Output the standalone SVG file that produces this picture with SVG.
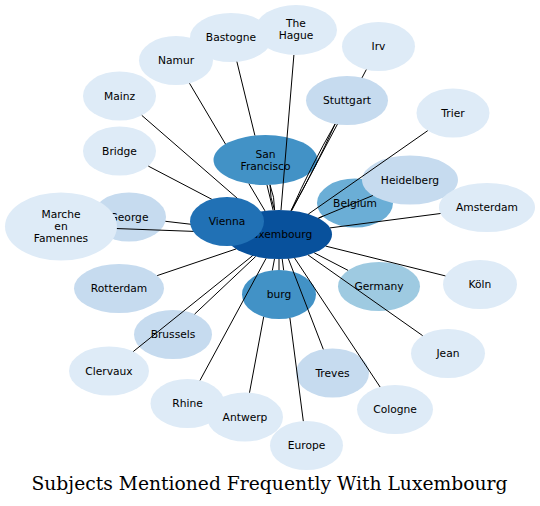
<svg xmlns="http://www.w3.org/2000/svg" width="540" height="506" viewBox="0 0 540 506">
<style>
.n text{font-family:"DejaVu Sans",Verdana,sans-serif;font-size:10.7px;fill:#000;text-anchor:middle}
.c1{fill:#deebf7}.c2{fill:#c6dbef}.c3{fill:#9ecae1}.c4{fill:#6baed6}.c5{fill:#4292c6}.c6{fill:#2171b5}.c7{fill:#08519c}
.e path{fill:none;stroke:#000;stroke-width:1}
.title{font-family:"DejaVu Serif","Liberation Serif",serif;font-size:18px;fill:#000;text-anchor:middle}
</style>
<rect width="540" height="506" fill="#fff"/>
<g id="nodes-lower">
<g id="n-rhine" class="n"><ellipse class="c1" cx="187.5" cy="403.5" rx="37" ry="24.5"/><text x="187.5" y="407.2">Rhine</text></g>
<g id="n-antwerp" class="n"><ellipse class="c1" cx="245" cy="417" rx="38" ry="24.5"/><text x="245" y="420.7">Antwerp</text></g>
<g id="n-europe" class="n"><ellipse class="c1" cx="306.5" cy="445.5" rx="36.5" ry="24.5"/><text x="306.5" y="449.2">Europe</text></g>
<g id="n-bastogne" class="n"><ellipse class="c1" cx="231" cy="37.5" rx="41" ry="24.5"/><text x="231" y="41.2">Bastogne</text></g>
<g id="n-hague" class="n"><ellipse class="c1" cx="296" cy="30" rx="41" ry="25"/><text x="296" y="27">The</text><text x="296" y="39">Hague</text></g>
<g id="n-namur" class="n"><ellipse class="c1" cx="176" cy="60.5" rx="37" ry="24.5"/><text x="176" y="64.2">Namur</text></g>
<g id="n-mainz" class="n"><ellipse class="c1" cx="119.5" cy="96" rx="36.5" ry="24.5"/><text x="119.5" y="99.7">Mainz</text></g>
<g id="n-bridge" class="n"><ellipse class="c1" cx="119.5" cy="151" rx="36.5" ry="24.5"/><text x="119.5" y="154.7">Bridge</text></g>
<g id="n-irv" class="n"><ellipse class="c1" cx="378.5" cy="46.5" rx="36.5" ry="24.5"/><text x="378.5" y="50.2">Irv</text></g>
<g id="n-trier" class="n"><ellipse class="c1" cx="453" cy="113" rx="36.5" ry="24.5"/><text x="453" y="116.7">Trier</text></g>
<g id="n-sanfrancisco" class="n"><ellipse class="c5" cx="265.5" cy="160" rx="52" ry="25"/><text x="265.5" y="157.5">San</text><text x="265.5" y="169.5">Francisco</text></g>
<g id="n-stuttgart" class="n"><ellipse class="c2" cx="347" cy="100.5" rx="41" ry="24.5"/><text x="347" y="104.2">Stuttgart</text></g>
<g id="n-belgium" class="n"><ellipse class="c4" cx="355" cy="203" rx="38" ry="24.5"/><text x="355" y="206.7">Belgium</text></g>
<g id="n-heidelberg" class="n"><ellipse class="c2" cx="410" cy="180" rx="48" ry="24.5"/><text x="410" y="183.7">Heidelberg</text></g>
<g id="n-amsterdam" class="n"><ellipse class="c1" cx="487" cy="207.5" rx="48" ry="24.5"/><text x="487" y="211">Amsterdam</text></g>
<g id="n-george" class="n"><ellipse class="c2" cx="129" cy="217" rx="37" ry="24.5"/><text x="129" y="220.7">George</text></g>
<g id="n-marche" class="n"><ellipse class="c1" cx="61" cy="226.5" rx="56" ry="34"/><text x="61" y="217.5">Marche</text><text x="61" y="229.5">en</text><text x="61" y="241.5">Famennes</text></g>
<g id="n-rotterdam" class="n"><ellipse class="c2" cx="119" cy="288.5" rx="45" ry="24.5"/><text x="119" y="292.2">Rotterdam</text></g>
<g id="n-brussels" class="n"><ellipse class="c2" cx="173" cy="334.5" rx="39" ry="24.5"/><text x="173" y="338.2">Brussels</text></g>
<g id="n-clervaux" class="n"><ellipse class="c1" cx="109" cy="371" rx="40" ry="24.5"/><text x="109" y="374.7">Clervaux</text></g>
<g id="n-treves" class="n"><ellipse class="c2" cx="332.5" cy="373" rx="36.5" ry="24.5"/><text x="332.5" y="376.7">Treves</text></g>
<g id="n-cologne" class="n"><ellipse class="c1" cx="395" cy="409.5" rx="38" ry="24.5"/><text x="395" y="413.2">Cologne</text></g>
<g id="n-jean" class="n"><ellipse class="c1" cx="448" cy="353.5" rx="37" ry="24.5"/><text x="448" y="357.2">Jean</text></g>
<g id="n-koln" class="n"><ellipse class="c1" cx="480" cy="284.5" rx="37" ry="24.5"/><text x="480" y="288.2">Köln</text></g>
<g id="n-germany" class="n"><ellipse class="c3" cx="379" cy="286.5" rx="41" ry="24.5"/><text x="379" y="290.2">Germany</text></g>
<g id="n-burg" class="n"><ellipse class="c5" cx="279" cy="294.5" rx="37" ry="24.5"/><text x="279" y="298.2">burg</text></g>
<g id="n-luxembourg" class="n"><ellipse class="c7" cx="279" cy="234.5" rx="53" ry="24.5"/><text x="279" y="238.2">Luxembourg</text></g>
</g>
<g id="connectors" class="e">
<path d="M265,210.9L248.9,183.7M225.5,144.1L189.5,83.3"/>
<path d="M273.1,210.2L267,185M254.9,135.5L236.9,61.7"/>
<path d="M281,210L293.9,55"/>
<path d="M274.6,210.1Q274.76,197.05 270,184.9"/>
<path d="M274.6,210.1Q269.84,197.950 270,184.9"/>
<path d="M291.6,210.7L337.4,124.2M362,77.8L366.3,69.6"/>
<path d="M291.1,210.6Q315.33,168.43 335.1,124"/>
<path d="M291.1,210.6Q310.87,166.17 335.1,124"/>
<path d="M308.3,214.1L427.7,130.7"/>
<path d="M318.4,218.1L372.8,195.5"/>
<path d="M318.5,218.2L323,216.2"/>
<path d="M330,227.9L440.5,213.5"/>
<path d="M325.7,246.1L445.4,275.9"/>
<path d="M314.2,252.8L348.1,270.4"/>
<path d="M308.1,255L422.65,335.65"/>
<path d="M294.5,257.9L380.1,387"/>
<path d="M288.3,258.6L323.3,349.3"/>
<path d="M282.2,259L283.66,270.2M289.9,317.9L303.3,421.1"/>
<path d="M274.5,258.9L272.35,270.4M263.7,316.8L249.5,392.7"/>
<path d="M279,259L279,270"/>
<path d="M266.1,258.3L200,380.4"/>
<path d="M252.6,255.7L133.3,351.5"/>
<path d="M255.7,256.5L194.6,314.1"/>
<path d="M236.2,248.9L157.2,275.6"/>
<path d="M227.6,228.5L165.4,221.3"/>
<path d="M226.2,232.6L116.9,228.55"/>
<path d="M243.9,216.1L148.3,166.1"/>
<path d="M254.1,212.9L141.8,115.4"/>
</g>
<g id="nodes-upper">
<g id="n-vienna" class="n"><ellipse class="c6" cx="227" cy="221.5" rx="37" ry="24.5"/><text x="227" y="225.2">Vienna</text></g>
</g>
<text class="title" x="269.5" y="489.5" textLength="476" lengthAdjust="spacingAndGlyphs">Subjects Mentioned Frequently With Luxembourg</text>
</svg>
